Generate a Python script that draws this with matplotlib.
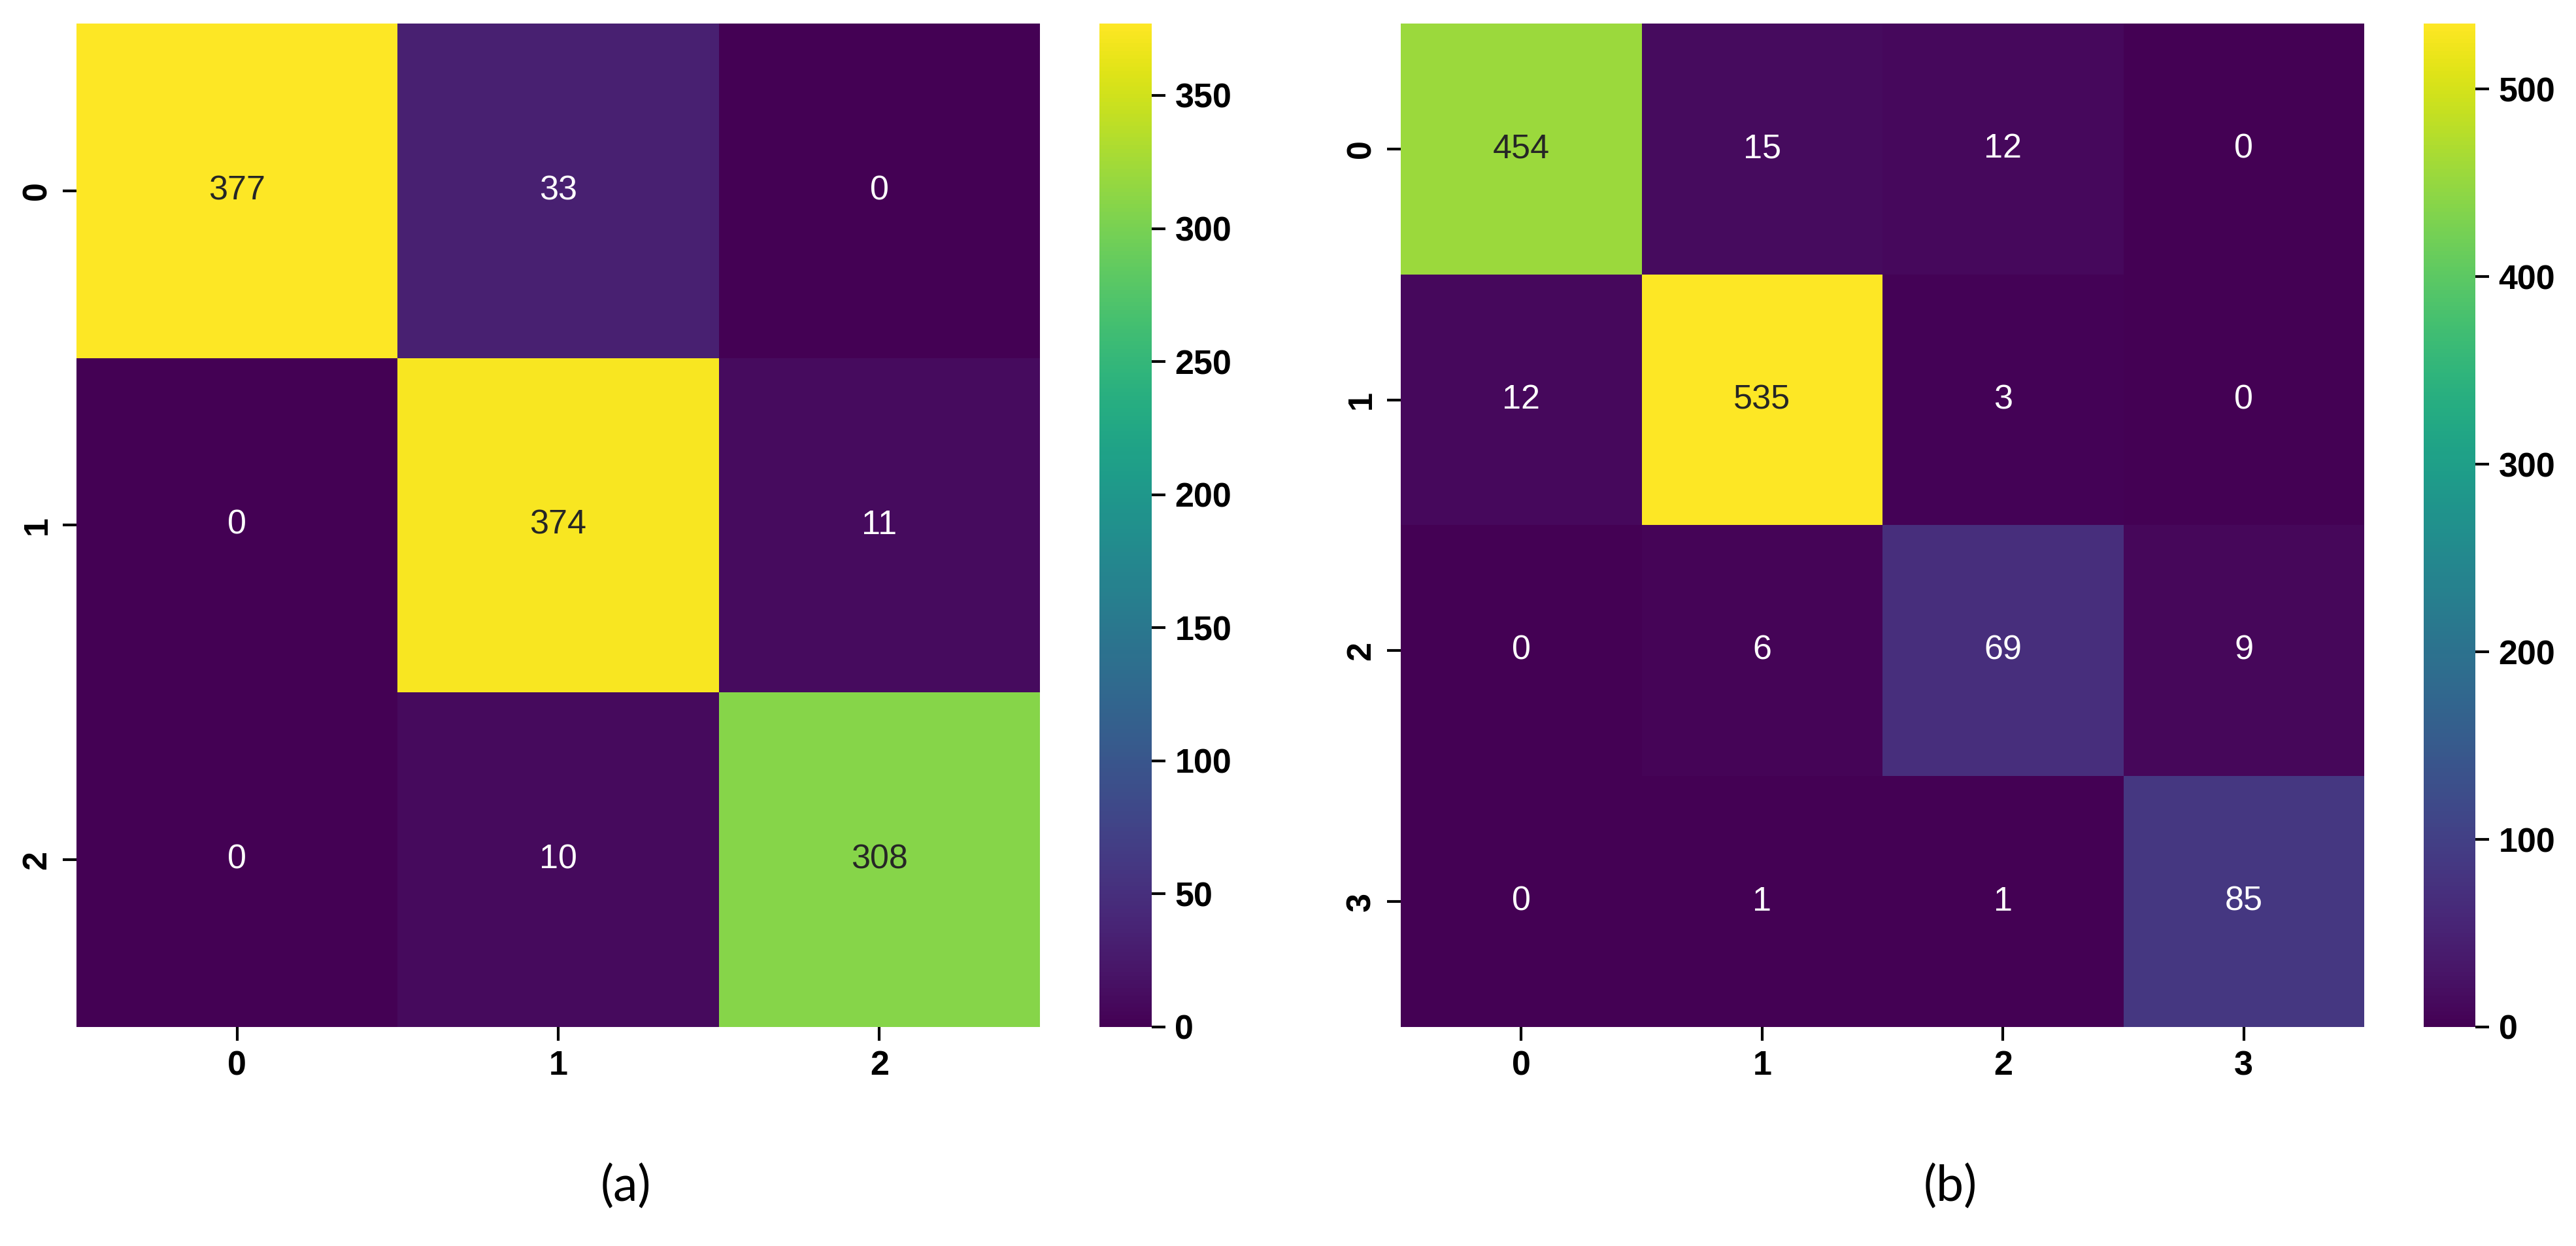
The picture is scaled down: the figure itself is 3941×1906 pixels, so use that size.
import numpy as np
import matplotlib
matplotlib.use('Agg')
import matplotlib.pyplot as plt
import seaborn as sns

# confusion matrices
labels_a = ['0', '1', '2']
cm_a = np.array([[377, 33, 0],
                 [0, 374, 11],
                 [0, 10, 308]])
cbar_ticks_a = [0, 50, 100, 150, 200, 250, 300, 350]

labels_b = ['0', '1', '2', '3']
cm_b = np.array([[454, 15, 12, 0],
                 [12, 535, 3, 0],
                 [0, 6, 69, 9],
                 [0, 1, 1, 85]])
cbar_ticks_b = [0, 100, 200, 300, 400, 500]

captions = ['(a)', '(b)']

tick_font = ['Liberation Sans', 'DejaVu Sans']

fig = plt.figure(figsize=(3941 / 300, 1906 / 300), dpi=300)

# axes placement: [heatmap, colorbar] for each panel
ax_a = fig.add_axes([0.0297, 0.1758, 0.374, 0.8053])
cax_a = fig.add_axes([0.4268, 0.1758, 0.0203, 0.8053])
ax_b = fig.add_axes([0.5438, 0.1758, 0.374, 0.8053])
cax_b = fig.add_axes([0.9409, 0.1758, 0.0201, 0.8053])

panels = [(ax_a, cax_a, cm_a, labels_a, cbar_ticks_a),
          (ax_b, cax_b, cm_b, labels_b, cbar_ticks_b)]

for ax, cax, cm, labels, cticks in panels:
    sns.heatmap(cm, ax=ax, cbar_ax=cax, cmap='viridis', annot=True, fmt='d',
                xticklabels=labels, yticklabels=labels,
                annot_kws={'fontsize': 12.5, 'family': tick_font})
    ax.tick_params(axis='both', length=5, width=1)
    for t in ax.get_xticklabels():
        t.set_fontsize(12.5)
        t.set_fontweight('bold')
        t.set_family(tick_font)
        t.set_rotation(0)
    for t in ax.get_yticklabels():
        t.set_fontsize(12.5)
        t.set_fontweight('bold')
        t.set_family(tick_font)
        t.set_rotation(90)
        t.set_va('center')
    cax.set_yticks(cticks)
    cax.tick_params(length=5, width=1)
    for t in cax.get_yticklabels():
        t.set_fontsize(12.5)
        t.set_fontweight('bold')
        t.set_family(tick_font)

# sub-figure captions
fig.text(0.243, 0.048, captions[0], ha='center', va='center', fontsize=18,
         family=['Lato', 'DejaVu Sans'])
fig.text(0.757, 0.048, captions[1], ha='center', va='center', fontsize=18,
         family=['Lato', 'DejaVu Sans'])

fig.savefig('out.png', dpi=300)
